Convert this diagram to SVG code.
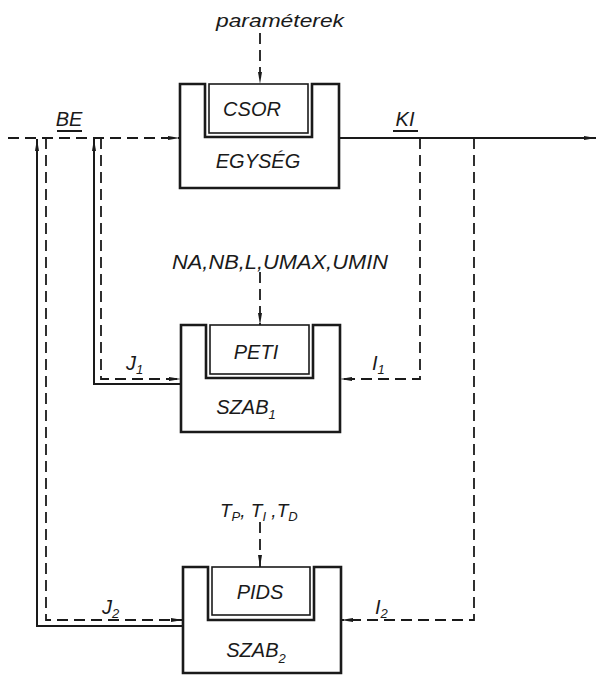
<svg xmlns="http://www.w3.org/2000/svg" width="599" height="676" viewBox="0 0 599 676">
<style>
text{font-family:"Liberation Sans","DejaVu Sans",Arial,sans-serif;font-style:italic;fill:#1a1a1a}
.lbl{font-size:20px}
.sub{font-size:13px}
.box{fill:none;stroke:#1a1a1a;stroke-width:2.6;stroke-linejoin:miter}
.inner{fill:none;stroke:#1a1a1a;stroke-width:1.6}
.solid{fill:none;stroke:#1a1a1a;stroke-width:2}
.dash{fill:none;stroke:#1a1a1a;stroke-width:1.8;stroke-dasharray:11 6}
</style>
<defs>
<marker id="ah" viewBox="0 0 12 6" refX="12" refY="3" markerWidth="12" markerHeight="6" markerUnits="userSpaceOnUse" orient="auto">
<path d="M0,1 L12,3 L0,5 z" fill="#1a1a1a"/>
</marker>
</defs>
<rect width="599" height="676" fill="#ffffff"/>

<g id="connectors">
<path class="dash" d="M8,138 H180" marker-end="url(#ah)"/>
<path class="solid" d="M339,138 H596" marker-end="url(#ah)"/>
<path class="dash" d="M260,33 V84" marker-end="url(#ah)"/>
<path class="dash" d="M260,272 V325" marker-end="url(#ah)"/>
<path class="dash" d="M260,522 V567" marker-end="url(#ah)"/>
<path class="solid" d="M181,384 H94 V139" marker-end="url(#ah)"/>
<path class="dash" d="M101,138 V379 H181" marker-end="url(#ah)"/>
<path class="solid" d="M183,626 H37 V139" marker-end="url(#ah)"/>
<path class="dash" d="M46,138 V620 H183" marker-end="url(#ah)"/>
<path class="dash" d="M420,138 V379 H340" marker-end="url(#ah)"/>
<path class="dash" d="M474,138 V620 H341" marker-end="url(#ah)"/>
</g>

<g id="labels">
<text x="280" y="27" font-size="18" text-anchor="middle" textLength="128" lengthAdjust="spacingAndGlyphs">paraméterek</text>
<text class="lbl" x="69" y="126" text-anchor="middle">BE</text>
<path class="solid" d="M57,131 H82"/>
<text class="lbl" x="405" y="126" text-anchor="middle">KI</text>
<path class="solid" d="M393,131 H418"/>
<text x="280" y="269" font-size="20" text-anchor="middle" textLength="216" lengthAdjust="spacingAndGlyphs">NA,NB,L,UMAX,UMIN</text>
<text x="220" y="517" font-size="19">T<tspan class="sub" dy="4">P</tspan><tspan dy="-4">, T</tspan><tspan class="sub" dy="4">I</tspan><tspan dy="-4"> ,T</tspan><tspan class="sub" dy="4">D</tspan></text>
<text class="lbl" x="126" y="370" font-size="21">J<tspan class="sub" dy="4">1</tspan></text>
<text class="lbl" x="372" y="370" font-size="21">I<tspan class="sub" dy="4">1</tspan></text>
<text class="lbl" x="102" y="614" font-size="21">J<tspan class="sub" dy="4">2</tspan></text>
<text class="lbl" x="375" y="614" font-size="21">I<tspan class="sub" dy="4">2</tspan></text>
</g>

<g id="egyseg">
<path class="box" d="M205,84 H180 V188 H339 V84 H312 V137 H205 Z"/>
<rect class="inner" x="209" y="84" width="99" height="49"/>
<text class="lbl" x="252" y="116" text-anchor="middle">CSOR</text>
<text class="lbl" x="258" y="168" text-anchor="middle">EGYSÉG</text>
</g>

<g id="szab1">
<path class="box" d="M206,325 H181 V432 H340 V325 H313 V378 H206 Z"/>
<rect class="inner" x="210" y="325" width="99" height="49"/>
<text class="lbl" x="256" y="359" text-anchor="middle">PETI</text>
<text class="lbl" x="246" y="414" text-anchor="middle">SZAB<tspan class="sub" dy="5">1</tspan></text>
</g>

<g id="szab2">
<path class="box" d="M208,567 H183 V673 H341 V567 H314 V620 H208 Z"/>
<rect class="inner" x="212" y="567" width="98" height="48"/>
<text class="lbl" x="260" y="599" text-anchor="middle">PIDS</text>
<text class="lbl" x="256" y="657" text-anchor="middle">SZAB<tspan class="sub" dy="6">2</tspan></text>
</g>
</svg>
